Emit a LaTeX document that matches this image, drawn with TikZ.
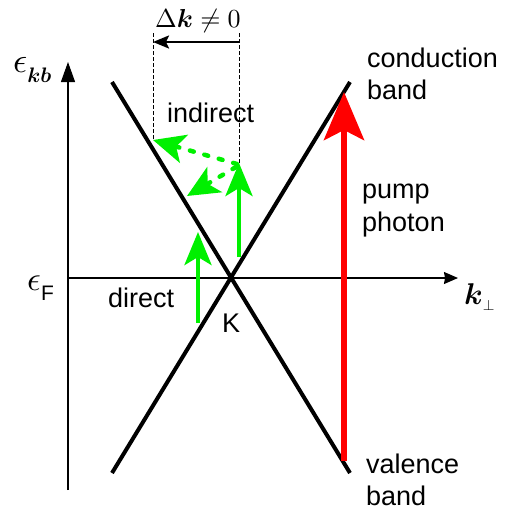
\documentclass[tikz,border=0pt]{standalone}
\usepackage{amsmath}
\usepackage{bm}
\usepackage{graphicx}
\usepackage{fontspec}
\setmainfont{Liberation Sans}
\usetikzlibrary{arrows.meta}
\definecolor{pgreen}{RGB}{0,240,0}
\definecolor{pred}{RGB}{255,0,0}
\begin{document}
\begin{tikzpicture}[x=1pt,y=-1pt,
  lbl/.style={anchor=base west,inner sep=0pt,font=\fontsize{27}{32}\selectfont},
  mlbl/.style={anchor=base west,inner sep=0pt,font=\normalsize},
  axis/.style={line width=1.2pt,black},
  band/.style={line width=4pt,black},
  garrow/.style={line width=4.5pt,pgreen,-{Stealth[length=33pt,width=27pt,inset=8pt]}},
  gdash/.style={line width=4.5pt,pgreen,line cap=round,dash pattern=on 4pt off 11pt,-{Stealth[length=32pt,width=29pt,inset=8pt]}},
  thindash/.style={line width=0.9pt,black,dash pattern=on 3.5pt off 2.5pt},
]
\useasboundingbox (0,0) rectangle (525,512);
% coordinates
\coordinate (yb) at (68,490);
\coordinate (yt) at (68,62);
\coordinate (xl) at (68,278);
\coordinate (xr) at (458,278);
\coordinate (c1a) at (112,82);
\coordinate (c1b) at (350,473);
\coordinate (c2a) at (350,82);
\coordinate (c2b) at (112,473);
\coordinate (rb) at (344,461);
\coordinate (rt) at (344,92);
\coordinate (g1b) at (198,323);
\coordinate (g1t) at (198,232);
\coordinate (g2b) at (239,257);
\coordinate (g2t) at (239,163);
\coordinate (d1s) at (237,164);
\coordinate (d1e) at (153,140);
\coordinate (d2s) at (236,167);
\coordinate (d2e) at (187,196);
\coordinate (v1t) at (153,33);
\coordinate (v1b) at (153,140);
\coordinate (v2t) at (239,33);
\coordinate (v2b) at (239,163);
\coordinate (hr) at (239,42);
\coordinate (hl) at (153,42);
% axes
\draw[axis,-{Triangle[length=20pt,width=14pt]}] (yb) -- (yt);
\draw[axis,-{Stealth[length=14pt,width=12pt,inset=1pt]}] (xl) -- (xr);
% bands
\draw[band] (c1a) -- (c1b);
\draw[band] (c2a) -- (c2b);
% red pump
\draw[line width=6.5pt,pred,-{Stealth[length=48pt,width=40pt,inset=10pt]}] (rb) -- (rt);
% dashed guides
\draw[thindash] (v1t) -- (v1b);
\draw[thindash] (v2t) -- (v2b);
\draw[line width=2.2pt,-{Stealth[length=16pt,width=13pt,inset=3pt]}] (hr) -- (hl);
% green arrows
\draw[garrow] (g1b) -- (g1t);
\draw[garrow] (g2b) -- (g2t);
\draw[gdash] (d1s) -- (d1e);
\draw[gdash] (d2s) -- (d2e);
% labels
\node[lbl] (cond) at (367,67.5) {conduction};
\node[lbl] (cband) at (367,99.5) {band};
\node[lbl] (pump) at (362,198) {pump};
\node[lbl] (phot) at (362,231) {photon};
\node[lbl] (val) at (366,473) {valence};
\node[lbl] (vband) at (366,505) {band};
\node[lbl] (ind) at (167,122) {indirect};
\node[lbl] (dir) at (108,307) {direct};
\node[lbl] (K) at (222,332) {K};
\node[mlbl] (ekb) at (13,72) {\scalebox{3.5}{$\epsilon$}\raisebox{-10pt}{\scalebox{2.1}{$\bm{kb}$}}};
\node[mlbl] (ef) at (27,290) {\scalebox{3.4}{$\epsilon$}\raisebox{-10pt}{\fontsize{21}{24}\selectfont F}};
\node[mlbl] (kp) at (464,304) {\scalebox{3}{$\bm{k}$}\raisebox{-6pt}{\scalebox{1.5}{$\perp$}}};
\node[mlbl,anchor=base] (dk) at (198,27) {\scalebox{2.6}{$\Delta\bm{k}\neq 0$}};
\end{tikzpicture}
\end{document}
